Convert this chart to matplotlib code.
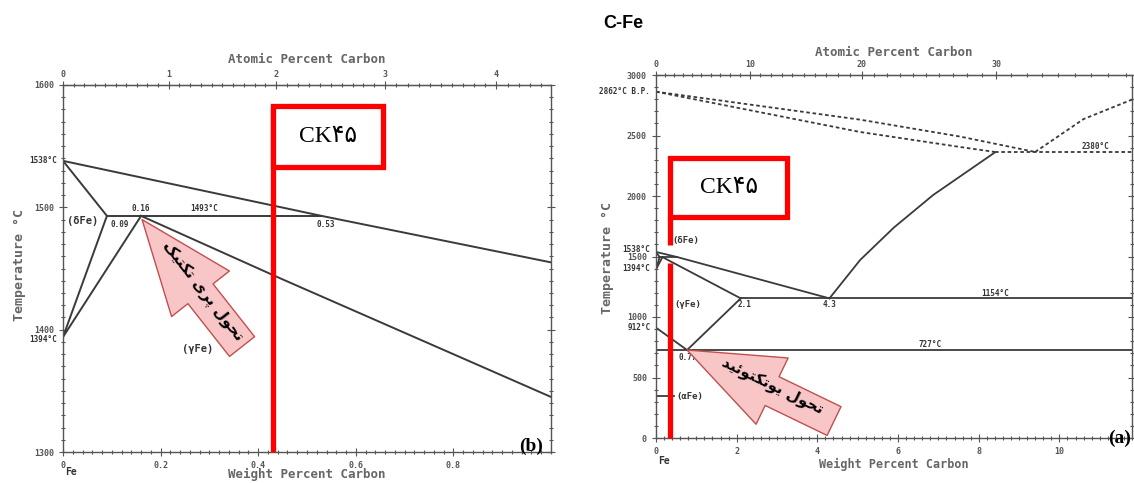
import matplotlib

matplotlib.use("Agg")

import matplotlib.pyplot as plt  # noqa: E402
import matplotlib.transforms as mtransforms  # noqa: E402
from matplotlib.patches import Rectangle  # noqa: E402
from matplotlib.ticker import MultipleLocator  # noqa: E402

# ---------------------------------------------------------------------------
# Data (wt% C, deg C)
# ---------------------------------------------------------------------------

# panel (b): peritectic corner
B_LIQ_WT, B_LIQ_T = [0, 0.53, 1.0], [1538, 1493, 1455]
B_DSOL_WT, B_DSOL_T = [0, 0.09], [1538, 1493]
B_PERI_WT, B_PERI_T = [0.09, 0.53], [1493, 1493]
B_DG1_WT, B_DG1_T = [0, 0.09], [1394, 1493]
B_DG2_WT, B_DG2_T = [0, 0.16], [1394, 1493]
B_GSOL_WT, B_GSOL_T = [0.16, 0.445, 1.0], [1493, 1442, 1345]

# panel (a): whole Fe-C diagram
A_LIQ_WT, A_LIQ_T = [0, 0.53, 4.3], [1538, 1495, 1154]
A_SOL_WT, A_SOL_T = [0.16, 2.1], [1495, 1154]
A_EUT_WT, A_EUT_T = [2.1, 11.8], [1154, 1154]
A_ACM_WT, A_ACM_T = [0.77, 2.1], [727, 1154]
A_A3_WT, A_A3_T = [0, 0.77], [912, 727]
A_EUTD_WT, A_EUTD_T = [0, 11.8], [727, 727]
A_DSOL_WT, A_DSOL_T = [0, 0.09], [1538, 1495]
A_PERI_WT, A_PERI_T = [0.09, 0.53], [1495, 1495]
A_DG1_WT, A_DG1_T = [0, 0.09], [1394, 1495]
A_DG2_WT, A_DG2_T = [0, 0.16], [1394, 1495]
A_MAG_WT, A_MAG_T = [0, 0.45], [347, 347]
A_GLIQ_WT = [4.3, 5.06, 5.9, 6.87, 8.4]
A_GLIQ_T = [1154, 1471, 1740, 2008, 2360]
A_GAS_UP_WT, A_GAS_UP_T = [0, 5.06, 7.54, 9.4], [2862, 2631, 2491, 2364]
A_GAS_LO_WT, A_GAS_LO_T = [0, 5.06, 7.54, 8.4], [2862, 2529, 2405, 2364]
A_GAS_HZ_WT, A_GAS_HZ_T = [8.4, 11.8], [2364, 2364]
A_GAS_C_WT, A_GAS_C_T = [9.4, 10.6, 11.9], [2364, 2636, 2810]

# CK45 marker (wt%) and box extents
B_CK_WT, B_CK_TOP, B_BOX = 0.43, 1583, (0.43, 1533, 0.226, 50)
A_CK_WT, A_BOX = 0.35, (0.35, 1826, 2.9, 488)
A_CK_SEGS = [(0, 1446), (1595, 1826)]

# Persian labels, pre-shaped (presentation forms, visual order)
TXT_PERI = "\uFB8F\uFBFF\uFE98\uFB91\uFE97 \uFBFC\uFEAE\uFB58 \uFEDD\uFEEE\uFEA4\uFE97"
TXT_EUTD = "\uFEAA\uFBFF\uFE8B\uFEEE\uFE98\uFB91\uFE97\uFEEE\uFBFE \uFEDD\uFEEE\uFEA4\uFE97"
CK_LABEL = "CK\u06F4\u06F5"

W, H = 1134, 483
LINE = "#3a3a3a"
GREY = "#555555"
MONO = "DejaVu Sans Mono"
RED = "#ff0000"


def wt2at(w):
    w = w * 1.0
    c = w / 12.011
    return 100 * c / (c + (100 - w) / 55.845)


def at2wt(a):
    a = a * 1.0
    return 100 * a * 12.011 / (a * 12.011 + (100 - a) * 55.845)


def px_axes(x0, y0, x1, y1):
    return fig.add_axes([x0 / W, 1 - y1 / H, (x1 - x0) / W, (y1 - y0) / H])


def style_axes(ax):
    for s in ax.spines.values():
        s.set_color(GREY)
        s.set_linewidth(1.0)
    ax.tick_params(which="both", direction="inout", colors=GREY,
                   labelsize=6, right=True, width=0.8)
    ax.tick_params(which="major", length=6)
    ax.tick_params(which="minor", length=3)
    for lab in ax.get_xticklabels() + ax.get_yticklabels():
        lab.set_family(MONO)
        lab.set_weight("bold")


def style_top(sec, pad_label):
    sec.tick_params(which="both", direction="inout", colors=GREY,
                    labelsize=6, width=0.8, pad=1)
    sec.tick_params(which="major", length=6)
    sec.tick_params(which="minor", length=3)
    for lab in sec.get_xticklabels():
        lab.set_family(MONO)
        lab.set_weight("bold")
    sec.set_xlabel("Atomic Percent Carbon", fontsize=9, family=MONO,
                   weight="bold", color="#666", labelpad=pad_label)


def side_label(ax, t, s, dx=-0.012):
    tr = mtransforms.blended_transform_factory(ax.transAxes, ax.transData)
    ax.text(dx, t, s, transform=tr, ha="right", va="center", fontsize=5.5,
            family=MONO, weight="bold", color="#333")


def note(ax, x, y, s, size=5.5, **kw):
    ax.text(x, y, s, fontsize=size, family=MONO, weight="bold",
            color="#333", **kw)


def persian_arrow(ax, tip, tail_off, txt_off, rot, txt):
    ax.annotate("", xy=tip, xytext=tail_off, textcoords="offset pixels",
                arrowprops=dict(
                    arrowstyle="simple,head_length=6.8,head_width=5.3,"
                               "tail_width=2.3",
                    fc="#f8c6c6", ec="#c0504d", lw=1.0,
                    shrinkA=0, shrinkB=0, mutation_scale=10),
                zorder=6)
    ax.annotate(txt, xy=tip, xytext=txt_off, textcoords="offset pixels",
                rotation=rot, rotation_mode="anchor", ha="center",
                va="center", fontsize=11, family=["DejaVu Sans"],
                weight="bold", color="black", zorder=7)


fig = plt.figure(figsize=(W / 100, H / 100), dpi=100)

# ---------------------------------------------------------------------------
# (b) peritectic region
# ---------------------------------------------------------------------------
axb = px_axes(63, 85, 551, 452)
axb.set_xlim(0, 1.0)
axb.set_ylim(1300, 1600)
axb.set_xticks([0, 0.2, 0.4, 0.6, 0.8])
axb.set_xticklabels(["0", "0.2", "0.4", "0.6", "0.8"])
axb.xaxis.set_minor_locator(MultipleLocator(0.02))
axb.set_yticks([1300, 1400, 1500, 1600])
axb.yaxis.set_minor_locator(MultipleLocator(10))
style_axes(axb)

for xs, ys in [(B_LIQ_WT, B_LIQ_T), (B_DSOL_WT, B_DSOL_T),
               (B_PERI_WT, B_PERI_T), (B_DG1_WT, B_DG1_T),
               (B_DG2_WT, B_DG2_T), (B_GSOL_WT, B_GSOL_T)]:
    axb.plot(xs, ys, color=LINE, lw=1.4)

secb = axb.secondary_xaxis("top", functions=(wt2at, at2wt))
secb.set_xticks([0, 1, 2, 3, 4])
secb.xaxis.set_minor_locator(MultipleLocator(0.1))
style_top(secb, 5)

axb.set_ylabel("Temperature \u00b0C", fontsize=9.5, family=MONO,
               weight="bold", color="#666")
axb.yaxis.set_label_coords(-0.076, 0.51)
axb.set_xlabel("Weight Percent Carbon", fontsize=9, family=MONO,
               weight="bold", color="#666", va="center")
axb.xaxis.set_label_coords(0.5, -0.062)

side_label(axb, 1538, "1538\u00b0C")
side_label(axb, 1392, "1394\u00b0C")
note(axb, 0.005, 1288, "Fe", size=7, ha="left", va="top")
note(axb, 0.04, 1489, "(\u03b4Fe)", size=7.5, ha="center", va="center")
note(axb, 0.275, 1384, "(\u03b3Fe)", size=7.5, ha="center", va="center")
note(axb, 0.097, 1490, "0.09", ha="left", va="top")
note(axb, 0.16, 1495, "0.16", ha="center", va="bottom")
note(axb, 0.29, 1495, "1493\u00b0C", ha="center", va="bottom")
note(axb, 0.52, 1490, "0.53", ha="left", va="top")

axb.plot([B_CK_WT, B_CK_WT], [1300, B_CK_TOP], color=RED, lw=3.8,
         clip_on=False, solid_capstyle="butt", zorder=5)
x0, y0, bw, bh = B_BOX
axb.add_patch(Rectangle((x0, y0), bw, bh, fc="white", ec=RED, lw=3.8,
                        clip_on=False, zorder=5))
axb.text(x0 + bw / 2, y0 + bh / 2, CK_LABEL, ha="center", va="center",
         fontsize=17, family=["Liberation Serif", "DejaVu Sans"], zorder=6)
persian_arrow(axb, (0.162, 1490), (100, -127), (61, -72), -52, TXT_PERI)
axb.text(0.984, 0.016, "(b)", transform=axb.transAxes, ha="right",
         va="center", fontsize=14, weight="bold", family="Liberation Serif")

# ---------------------------------------------------------------------------
# (a) full diagram
# ---------------------------------------------------------------------------
axa = px_axes(656, 75, 1132, 438)
axa.set_xlim(0, 11.8)
axa.set_ylim(0, 3000)
axa.set_xticks([0, 2, 4, 6, 8, 10])
axa.xaxis.set_minor_locator(MultipleLocator(0.2))
axa.set_yticks([0, 500, 1000, 1500, 2000, 2500, 3000])
axa.yaxis.set_minor_locator(MultipleLocator(100))
style_axes(axa)

for xs, ys in [(A_LIQ_WT, A_LIQ_T), (A_SOL_WT, A_SOL_T),
               (A_EUT_WT, A_EUT_T), (A_ACM_WT, A_ACM_T), (A_A3_WT, A_A3_T),
               (A_EUTD_WT, A_EUTD_T), (A_DSOL_WT, A_DSOL_T),
               (A_PERI_WT, A_PERI_T), (A_DG1_WT, A_DG1_T),
               (A_DG2_WT, A_DG2_T), (A_MAG_WT, A_MAG_T),
               (A_GLIQ_WT, A_GLIQ_T)]:
    axa.plot(xs, ys, color=LINE, lw=1.3)
for xs, ys in [(A_GAS_UP_WT, A_GAS_UP_T), (A_GAS_LO_WT, A_GAS_LO_T),
               (A_GAS_HZ_WT, A_GAS_HZ_T), (A_GAS_C_WT, A_GAS_C_T)]:
    axa.plot(xs, ys, color=LINE, lw=1.3, ls=(0, (2, 1.5)))

seca = axa.secondary_xaxis("top", functions=(wt2at, at2wt))
seca.set_xticks([0, 10, 20, 30])
seca.xaxis.set_minor_locator(MultipleLocator(1))
style_top(seca, 3)

axa.set_ylabel("Temperature \u00b0C", fontsize=9.5, family=MONO,
               weight="bold", color="#666")
axa.yaxis.set_label_coords(-0.088, 0.496)
axa.set_xlabel("Weight Percent Carbon", fontsize=8.5, family=MONO,
               weight="bold", color="#666", va="center")
axa.xaxis.set_label_coords(0.5, -0.072)

side_label(axa, 2862, "2862\u00b0C B.P.")
side_label(axa, 1560, "1538\u00b0C")
side_label(axa, 1400, "1394\u00b0C")
side_label(axa, 912, "912\u00b0C")
note(axa, 0.05, -150, "Fe", size=7, ha="left", va="top")
note(axa, 0.4, 1630, "(\u03b4Fe)", size=6.5, ha="left", va="center")
note(axa, 0.45, 1100, "(\u03b3Fe)", size=6.5, ha="left", va="center")
note(axa, 0.5, 347, "(\u03b1Fe)", size=6.5, ha="left", va="center")
note(axa, 0.55, 700, "0.77", ha="left", va="top")
note(axa, 2.2, 1140, "2.1", ha="center", va="top")
note(axa, 4.3, 1140, "4.3", ha="center", va="top")
note(axa, 8.4, 1160, "1154\u00b0C", ha="center", va="bottom")
note(axa, 6.8, 735, "727\u00b0C", ha="center", va="bottom")
note(axa, 10.9, 2370, "2380\u00b0C", ha="center", va="bottom")

for t0, t1 in A_CK_SEGS:
    axa.plot([A_CK_WT, A_CK_WT], [t0, t1], color=RED, lw=3.8,
             clip_on=False, solid_capstyle="butt", zorder=5)
x0, y0, bw, bh = A_BOX
axa.add_patch(Rectangle((x0, y0), bw, bh, fc="white", ec=RED, lw=3.8,
                        clip_on=False, zorder=5))
axa.text(x0 + bw / 2, y0 + bh / 2, CK_LABEL, ha="center", va="center",
         fontsize=17, family=["Liberation Serif", "DejaVu Sans"], zorder=6)
persian_arrow(axa, (0.77, 727), (147, -71), (85, -36), -26, TXT_EUTD)
axa.text(0.998, 0.0, "(a)", transform=axa.transAxes, ha="right",
         va="center", fontsize=14, weight="bold", family="Liberation Serif")

fig.text(603 / W, 1 - 23 / H, "C-Fe", fontsize=13, weight="bold",
         family="Liberation Sans", ha="left", va="center")

fig.savefig("out.png", dpi=100)
